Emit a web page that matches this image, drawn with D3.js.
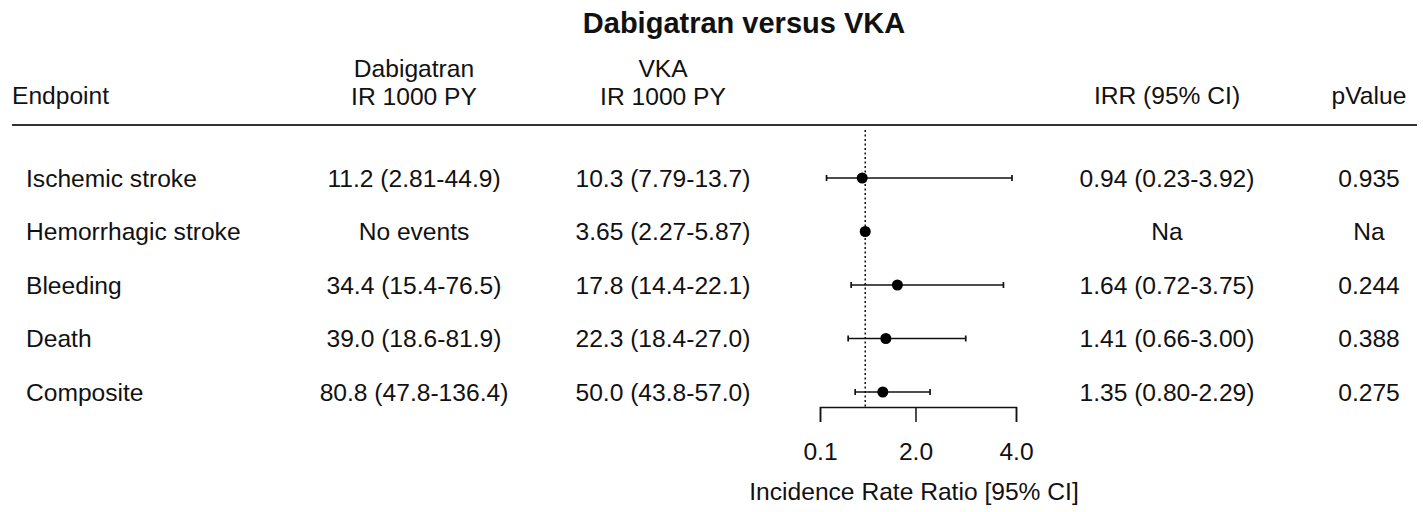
<!DOCTYPE html>
<html>
<head>
<meta charset="utf-8">
<script src="https://cdn.jsdelivr.net/npm/d3@7"></script>
<style>
  body { margin: 0; background: #fff; }
  text { font-family: "Liberation Sans", Arial, sans-serif; fill: #111; }
</style>
</head>
<body>
<div id="chart"></div>
<script>
// table values
var endpoints = ['Ischemic stroke', 'Hemorrhagic stroke', 'Bleeding', 'Death', 'Composite'];
var dabigatranIR = ['11.2 (2.81-44.9)', 'No events', '34.4 (15.4-76.5)', '39.0 (18.6-81.9)', '80.8 (47.8-136.4)'];
var vkaIR = ['10.3 (7.79-13.7)', '3.65 (2.27-5.87)', '17.8 (14.4-22.1)', '22.3 (18.4-27.0)', '50.0 (43.8-57.0)'];
var irrText = ['0.94 (0.23-3.92)', 'Na', '1.64 (0.72-3.75)', '1.41 (0.66-3.00)', '1.35 (0.80-2.29)'];
var pValues = ['0.935', 'Na', '0.244', '0.388', '0.275'];
// plotted estimates (hemorrhagic stroke is drawn on the reference line, no CI)
var irr = [0.94, 1, 1.64, 1.41, 1.35];
var lower = [0.23, null, 0.72, 0.66, 0.80];
var upper = [3.92, null, 3.75, 3.00, 2.29];
var axisTicks = [0.1, 2.0, 4.0];

var width = 1423, height = 512;
var fs = '24.6px';

var svg = d3.select('#chart').append('svg')
    .attr('width', width)
    .attr('height', height);

var xScale = d3.scaleLinear()
    .domain([0.1, 4])
    .range([820, 1016]);

var yScale = d3.scalePoint()
    .domain(endpoints)
    .range([178, 392]);

var cols = { endpoint: 26, dabi: 414, vka: 663, irr: 1167, p: 1369 };

// title
svg.append('text')
    .attr('x', 744)
    .attr('y', 33)
    .attr('text-anchor', 'middle')
    .style('font-size', '29px')
    .style('font-weight', 'bold')
    .text('Dabigatran versus VKA');

// header
var header = svg.append('g').style('font-size', fs);
header.append('text').attr('x', 12).attr('y', 104).text('Endpoint');
header.append('text').attr('x', cols.dabi).attr('y', 77).attr('text-anchor', 'middle').text('Dabigatran');
header.append('text').attr('x', cols.dabi).attr('y', 105).attr('text-anchor', 'middle').text('IR 1000 PY');
header.append('text').attr('x', cols.vka).attr('y', 77).attr('text-anchor', 'middle').text('VKA');
header.append('text').attr('x', cols.vka).attr('y', 105).attr('text-anchor', 'middle').text('IR 1000 PY');
header.append('text').attr('x', cols.irr).attr('y', 104).attr('text-anchor', 'middle').text('IRR (95% CI)');
header.append('text').attr('x', cols.p).attr('y', 104).attr('text-anchor', 'middle').text('pValue');

svg.append('line')
    .attr('x1', 12).attr('x2', 1417)
    .attr('y1', 125).attr('y2', 125)
    .style('stroke', '#333')
    .style('stroke-width', 2);

// table rows
var rows = svg.selectAll('g.row')
    .data(endpoints)
    .enter().append('g')
    .attr('class', 'row')
    .attr('transform', function(d) { return 'translate(0,' + yScale(d) + ')'; })
    .style('font-size', fs);

rows.append('text').attr('x', cols.endpoint).attr('dy', '0.35em')
    .text(function(d) { return d; });
rows.append('text').attr('x', cols.dabi).attr('dy', '0.35em').attr('text-anchor', 'middle')
    .text(function(d, i) { return dabigatranIR[i]; });
rows.append('text').attr('x', cols.vka).attr('dy', '0.35em').attr('text-anchor', 'middle')
    .text(function(d, i) { return vkaIR[i]; });
rows.append('text').attr('x', cols.irr).attr('dy', '0.35em').attr('text-anchor', 'middle')
    .text(function(d, i) { return irrText[i]; });
rows.append('text').attr('x', cols.p).attr('dy', '0.35em').attr('text-anchor', 'middle')
    .text(function(d, i) { return pValues[i]; });

// reference line at 1
svg.append('line')
    .attr('x1', xScale(1)).attr('x2', xScale(1))
    .attr('y1', 130).attr('y2', 407)
    .style('stroke', '#111')
    .style('stroke-width', 1.5)
    .style('stroke-dasharray', '2,2.5');

// confidence intervals
var ci = svg.append('g').style('stroke', '#111').style('stroke-width', 1.7);
endpoints.forEach(function(d, i) {
  if (lower[i] == null) return;
  var y = yScale(d);
  ci.append('line').attr('x1', xScale(lower[i])).attr('x2', xScale(upper[i])).attr('y1', y).attr('y2', y);
  ci.append('line').attr('x1', xScale(lower[i])).attr('x2', xScale(lower[i])).attr('y1', y - 3).attr('y2', y + 3);
  ci.append('line').attr('x1', xScale(upper[i])).attr('x2', xScale(upper[i])).attr('y1', y - 3).attr('y2', y + 3);
});

svg.selectAll('circle.pt')
    .data(endpoints)
    .enter().append('circle')
    .attr('class', 'pt')
    .attr('cx', function(d, i) { return xScale(irr[i]); })
    .attr('cy', function(d) { return yScale(d); })
    .attr('r', 5.5)
    .style('fill', '#000');

// x axis
var axis = svg.append('g')
    .attr('transform', 'translate(0,407)')
    .call(d3.axisBottom(xScale)
      .tickValues(axisTicks)
      .tickFormat(d3.format('.1f'))
      .tickSize(15)
      .tickSizeOuter(15)
      .tickPadding(21));
axis.select('.domain').style('stroke', '#111').style('stroke-width', 1.5);
axis.selectAll('.tick line').style('stroke', '#111').style('stroke-width', 1.5);
axis.selectAll('.tick text')
    .style('font-size', fs)
    .style('font-family', '"Liberation Sans", Arial, sans-serif')
    .attr('fill', '#111');

svg.append('text')
    .attr('x', 914)
    .attr('y', 500)
    .attr('text-anchor', 'middle')
    .style('font-size', fs)
    .text('Incidence Rate Ratio [95% CI]');
</script>
</body>
</html>
